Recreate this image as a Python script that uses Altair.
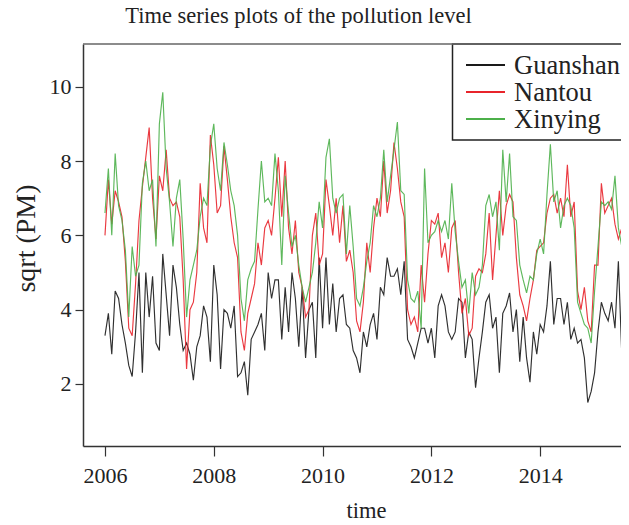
import altair as alt
import pandas as pd

title_text = "Time series plots of the pollution level"
series_names = ["Guanshan", "Nantou", "Xinying"]
series_colors = ["#1a1a1a", "#e8242b", "#4cb04a"]
start_year = 2006
steps_per_year = 16

guanshan = [
    3.3, 3.9, 2.8, 4.5, 4.3, 3.6, 3.1, 2.5, 2.2, 3.4, 5.0, 2.3, 5.0, 3.8, 4.9, 3.1,
    2.9, 5.5, 4.4, 3.3, 5.2, 4.6, 3.6, 2.9, 3.1, 2.8, 2.1, 3.0, 3.3, 4.1, 3.8, 2.6,
    5.2, 4.4, 2.4, 4.0, 3.9, 3.5, 4.1, 2.2, 2.3, 2.6, 1.7, 3.2, 3.4, 3.6, 3.9, 2.9,
    5.0, 4.3, 4.8, 4.8, 3.2, 4.6, 3.4, 5.0, 4.3, 3.0, 4.6, 2.7, 4.0, 4.2, 2.7, 5.4,
    3.5, 5.4, 3.6, 4.7, 3.4, 4.3, 4.4, 3.6, 3.5, 2.9, 2.7, 2.3, 3.4, 3.0, 3.6, 3.9,
    3.2, 4.6, 4.4, 5.4, 4.9, 4.9, 5.1, 4.4, 5.3, 3.2, 3.0, 2.7, 3.1, 3.5, 3.5, 3.1,
    3.5, 2.7, 4.1, 4.4, 4.1, 3.4, 3.2, 3.4, 4.3, 4.2, 2.7, 3.4, 3.2, 1.9, 2.7, 3.4,
    4.2, 4.4, 3.5, 3.8, 2.3, 3.9, 4.1, 4.45, 3.4, 4.0, 2.6, 3.8, 2.7, 2.05, 3.4, 2.8,
    3.6, 3.4, 4.1, 5.3, 3.6, 4.3, 4.3, 3.6, 4.2, 3.2, 3.5, 3.1, 3.2, 2.7, 1.5, 1.8,
    2.3, 3.4, 4.2, 3.9, 3.7, 4.2, 3.5, 5.3, 2.8, 2.3, 3.5,
]
nantou = [
    6.0, 7.5, 6.3, 7.2, 6.9, 6.5, 5.3, 3.5, 3.3, 4.7, 6.4, 7.3, 8.1, 8.9, 7.0, 5.9,
    7.6, 7.2, 8.3, 7.0, 6.8, 6.9, 6.5, 4.8, 2.4, 4.0, 4.2, 5.0, 7.4, 6.2, 5.8, 8.7,
    7.9, 6.6, 6.8, 8.4, 7.5, 6.5, 5.8, 5.4, 3.4, 2.9, 3.9, 4.3, 4.7, 5.8, 5.2, 6.2,
    6.4, 6.0, 7.0, 8.1, 6.5, 8.0, 6.2, 5.5, 6.4, 5.0, 4.6, 3.8, 4.0, 6.0, 6.6, 5.2,
    5.5, 7.5, 6.8, 6.0, 7.0, 5.8, 6.8, 5.3, 5.6, 5.0, 3.7, 3.4, 4.2, 5.8, 5.0, 6.2,
    7.0, 6.5, 8.0, 6.6, 7.2, 8.5, 7.8, 6.9, 6.5, 4.0, 3.6, 3.8, 3.4, 5.2, 4.2, 5.5,
    6.4, 6.3, 6.6, 5.4, 5.8, 5.0, 6.2, 6.4, 5.0, 3.9, 4.3, 3.3, 3.5, 4.9, 5.1, 5.0,
    5.5, 6.6, 4.8, 6.0, 7.2, 6.0, 6.8, 7.1, 6.9, 5.4, 4.4, 4.1, 3.7, 4.3, 4.8, 5.6,
    5.7, 5.8, 6.6, 7.0, 7.1, 6.6, 7.0, 6.5, 7.9, 6.5, 6.9, 4.5, 4.0, 4.6, 3.7, 3.4,
    5.2, 5.2, 7.4, 6.6, 6.8, 7.0, 6.3, 5.9, 6.2, 5.2, 4.2,
]
xinying = [
    6.6, 7.8, 6.0, 8.2, 6.8, 6.4, 5.6, 3.8, 5.7, 4.9, 5.2, 7.4, 8.0, 7.2, 7.5, 5.7,
    9.0, 9.85, 7.8, 6.9, 5.7, 7.0, 7.5, 5.9, 3.8, 4.8, 5.2, 5.6, 6.5, 7.0, 6.8, 8.4,
    9.0, 7.8, 7.2, 8.5, 7.9, 7.2, 6.8, 6.0, 4.3, 3.7, 4.8, 5.1, 5.3, 6.7, 8.0, 6.9,
    7.0, 6.8, 8.2, 7.2, 5.2, 7.6, 6.6, 5.7, 6.0, 5.2, 4.6, 4.2, 4.6, 5.0, 5.8, 6.9,
    6.2, 8.1, 8.6, 7.0, 6.6, 7.0, 7.1, 5.5, 6.8, 5.7, 4.3, 4.1, 4.6, 5.3, 5.8, 6.8,
    6.5, 7.0, 8.3, 6.9, 7.6, 8.3, 9.05, 7.2, 7.1, 4.8, 4.3, 4.2, 4.5, 3.5, 7.8, 5.8,
    6.0, 6.1, 6.4, 6.1, 6.4, 5.9, 7.4, 6.1, 5.3, 4.6, 4.8, 3.9, 5.0, 4.4, 4.6, 5.2,
    6.8, 7.1, 6.5, 6.9, 5.6, 8.3, 6.9, 8.2, 6.5, 6.4, 5.2, 4.8, 4.45, 4.9, 4.8, 5.5,
    5.9, 5.5, 7.1, 8.45, 6.9, 7.2, 6.2, 6.8, 7.0, 6.8, 6.2, 4.2, 3.9, 3.6, 3.5, 3.1,
    4.5, 5.7, 6.9, 6.8, 6.9, 6.7, 7.6, 6.2, 5.7, 5.2, 4.6,
]

x_ticks = [2006, 2008, 2010, 2012, 2014]
y_ticks = [2, 4, 6, 8, 10]

rows = []
for name, vals in zip(series_names, [guanshan, nantou, xinying]):
    for i, v in enumerate(vals):
        rows.append({"time": start_year + i / steps_per_year, "value": v, "station": name})
df = pd.DataFrame(rows)

W, H = 538, 402
FONT = "Liberation Serif"
INK = "#222222"
PX_PER_YEAR = 54.4
X0 = 2005.596

# legend box layout (pixels inside the plot area)
LEG_LEFT, LEG_BOTTOM = 369.5, 96
LEG_ROW0, LEG_ROW_STEP = 21, 27
LEG_SYM_X0, LEG_SYM_X1, LEG_TXT_X = 383, 422, 431

x_scale = alt.Scale(domain=[X0, X0 + W / PX_PER_YEAR], nice=False, zero=False)
y_scale = alt.Scale(domain=[0.33, 11.15], nice=False, zero=False)
color_scale = alt.Scale(domain=series_names, range=series_colors)

x_axis = alt.Axis(
    values=x_ticks, format="d", title="time", grid=False,
    labelFont=FONT, labelFontSize=22, labelColor=INK, labelPadding=9, labelFlush=False,
    tickSize=10, tickColor="#333333", tickWidth=1.2,
    domainColor="#333333", domainWidth=1.5,
    titleFont=FONT, titleFontSize=22.5, titleFontWeight="normal", titleColor=INK,
    titleX=283, titleY=71, titleBaseline="alphabetic", titleAlign="center",
)
y_axis = alt.Axis(
    values=y_ticks, format="d", title="sqrt (PM)", grid=False,
    labelFont=FONT, labelFontSize=22, labelColor=INK, labelPadding=4,
    tickSize=8, tickColor="#333333", tickWidth=1.2,
    domainColor="#333333", domainWidth=1.5,
    titleFont=FONT, titleFontSize=28, titleFontWeight="normal", titleColor=INK,
    titleX=-57, titleY=194, titleAngle=270, titleAlign="center", titleBaseline="middle",
)

layers = []
for name in series_names:
    layers.append(
        alt.Chart(df)
        .transform_filter(alt.datum.station == name)
        .mark_line(strokeWidth=1.15, opacity=0.9)
        .encode(
            x=alt.X("time:Q", scale=x_scale, axis=x_axis),
            y=alt.Y("value:Q", scale=y_scale, axis=y_axis),
            color=alt.Color("station:N", scale=color_scale, legend=None),
        )
    )

legend_box = alt.Chart(pd.DataFrame({"box": ["legend"]})).mark_rect(
    fill="white", stroke="#222222", strokeWidth=1.5
).encode(x=alt.value(LEG_LEFT), x2=alt.value(W + 30), y=alt.value(0), y2=alt.value(LEG_BOTTOM))

legend_layers = []
for i, (name, col) in enumerate(zip(series_names, series_colors)):
    row_df = pd.DataFrame({"station": [name]})
    yy = LEG_ROW0 + LEG_ROW_STEP * i
    legend_layers.append(
        alt.Chart(row_df).mark_rule(color=col, strokeWidth=2).encode(
            x=alt.value(LEG_SYM_X0), x2=alt.value(LEG_SYM_X1), y=alt.value(yy)
        )
    )
    legend_layers.append(
        alt.Chart(row_df).mark_text(
            font=FONT, fontSize=26.5, color=INK, align="left", baseline="middle"
        ).encode(text="station:N", x=alt.value(LEG_TXT_X), y=alt.value(yy + 1))
    )

top_border = alt.Chart(pd.DataFrame({"edge": ["top"]})).mark_rule(
    color="#666666", strokeWidth=1.5
).encode(x=alt.value(0), x2=alt.value(W + 10), y=alt.value(0))

title_mark = alt.Chart(pd.DataFrame({"label": [title_text]})).mark_text(
    font=FONT, fontSize=22.5, color=INK, align="center", baseline="alphabetic"
).encode(text="label:N", x=alt.value(215.5), y=alt.value(-21))

chart = (
    alt.layer(*layers, legend_box, *legend_layers, top_border, title_mark)
    .properties(
        width=W, height=H,
        padding={"left": 75, "top": 36, "right": 0, "bottom": 80},
        autosize=alt.AutoSizeParams(type="none"),
    )
    .configure_view(stroke=None)
)

chart.save("out.html", embed_options={"renderer": "svg", "actions": False})
